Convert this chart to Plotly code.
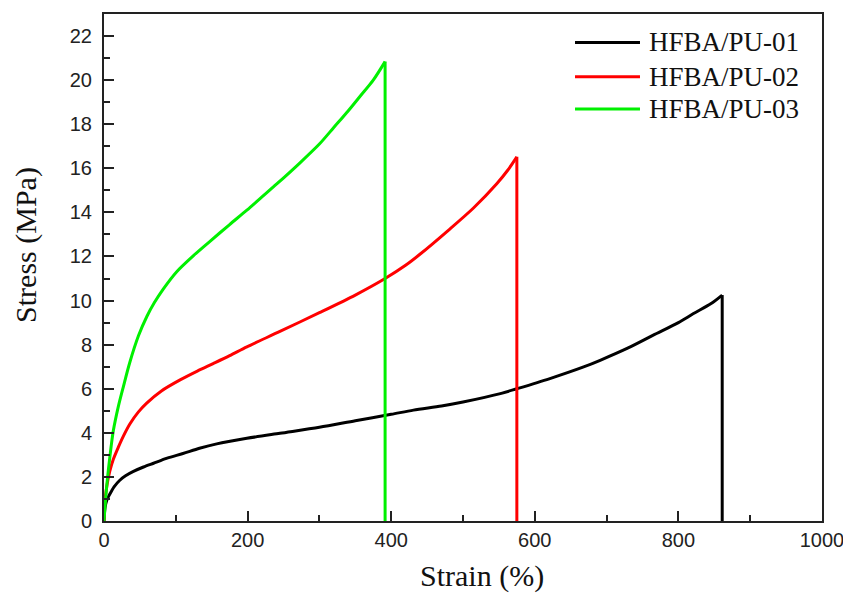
import plotly.graph_objects as go

# Tensile stress-strain data for the three HFBA/PU films
series_names = ["HFBA/PU-01", "HFBA/PU-02", "HFBA/PU-03"]
series_colors = ["#000000", "#ff0000", "#00f000"]

strain_01 = [0, 1.4, 4, 8.4, 14, 22, 30, 41, 55, 69, 88, 110, 133, 157, 199, 245, 300, 350,
             400, 431, 470, 500, 552, 575, 620, 668, 691, 730, 765, 800, 821, 845, 861, 861]
stress_01 = [0, 0.6, 0.95, 1.24, 1.55, 1.85, 2.05, 2.25, 2.45, 2.62, 2.85, 3.06, 3.3, 3.5, 3.75, 3.98, 4.25, 4.55,
             4.84, 5.03, 5.22, 5.4, 5.78, 6.0, 6.45, 6.99, 7.29, 7.85, 8.43, 9.0, 9.41, 9.85, 10.25, 0]

strain_02 = [0, 1, 4, 8, 13, 20, 27, 36, 48, 59.5, 80, 106, 130, 152, 175, 199, 245, 300, 350,
             391.5, 420, 440, 480, 514.6, 547, 562, 575, 575]
stress_02 = [0, 0.8, 1.6, 2.25, 2.8, 3.35, 3.85, 4.4, 4.95, 5.35, 5.9, 6.4, 6.8, 7.14, 7.5, 7.9, 8.6, 9.45, 10.25,
             11.0, 11.6, 12.1, 13.2, 14.2, 15.3, 15.9, 16.52, 0]

strain_03 = [0, 3, 6, 10, 13, 20, 27, 36, 48, 60, 70, 82, 101, 125, 148, 175, 199, 220, 241, 273,
             300, 320, 340, 357, 375, 391.5, 391.5]
stress_03 = [0, 1.3, 2.3, 3.4, 4.1, 5.2, 6.1, 7.2, 8.4, 9.3, 9.9, 10.5, 11.3, 12.05, 12.7, 13.45, 14.1, 14.7, 15.3, 16.25,
             17.1, 17.85, 18.6, 19.28, 20.0, 20.84, 0]

x_ticks = [0, 200, 400, 600, 800, 1000]
y_ticks = list(range(0, 23, 2))

strains = [strain_01, strain_02, strain_03]
stresses = [stress_01, stress_02, stress_03]

fig = go.Figure()
for name, color, xs, ys in zip(series_names, series_colors, strains, stresses):
    # loading curve up to fracture
    fig.add_trace(go.Scatter(x=xs[:-1], y=ys[:-1], mode="lines", name=name,
                             line=dict(color=color, width=3, shape="spline",
                                       smoothing=0.8),
                             showlegend=False))
    # sudden drop at break
    fig.add_trace(go.Scatter(x=xs[-2:], y=ys[-2:], mode="lines", name=name,
                             line=dict(color=color, width=3),
                             showlegend=False, hoverinfo="skip"))

axis_common = dict(
    showline=True, linecolor="#222222", linewidth=2, mirror=True,
    ticks="inside", ticklen=10, tickwidth=2, tickcolor="#222222",
    showgrid=False, zeroline=False, ticklabeloverflow="allow",
    automargin=False,
    tickfont=dict(family="Liberation Sans, Arial", size=20, color="#222222"),
)

fig.update_xaxes(range=[0, 1000], tickvals=x_ticks,
                 minor=dict(ticks="inside", ticklen=6, tickwidth=2,
                            tickcolor="#222222", dtick=100, showgrid=False),
                 **axis_common)
fig.update_yaxes(range=[0, 23], tickvals=y_ticks, ticklabelstandoff=6,
                 minor=dict(ticks="inside", ticklen=6, tickwidth=2,
                            tickcolor="#222222", dtick=1, showgrid=False),
                 **axis_common)

# Axis titles
title_font = dict(family="Liberation Serif, Times New Roman", size=30, color="#111111")
fig.add_annotation(text="Strain (%)", xref="paper", yref="paper",
                   x=0.527, y=-0.108, xanchor="center", yanchor="middle",
                   showarrow=False, font=title_font)
fig.add_annotation(text="Stress (MPa)", xref="paper", yref="paper",
                   x=-0.109, y=0.544, xanchor="center", yanchor="middle",
                   textangle=-90, showarrow=False, font=title_font)

# Legend drawn as line samples with labels in the upper right
legend_rows = [0.944, 0.876, 0.8126]
for name, color, ly in zip(series_names, series_colors, legend_rows):
    fig.add_shape(type="line", xref="paper", yref="paper",
                  x0=0.656, x1=0.7465, y0=ly, y1=ly,
                  line=dict(color=color, width=3))
    fig.add_annotation(text=name, xref="paper", yref="paper",
                       x=0.7563, y=ly, xanchor="left", yanchor="middle",
                       showarrow=False,
                       font=dict(family="Liberation Serif, Times New Roman",
                                 size=27, color="#111111"))

fig.update_layout(
    width=843, height=594,
    margin=dict(l=104, r=21, t=14, b=73),
    paper_bgcolor="white", plot_bgcolor="white",
)

fig.write_html("out.html")
